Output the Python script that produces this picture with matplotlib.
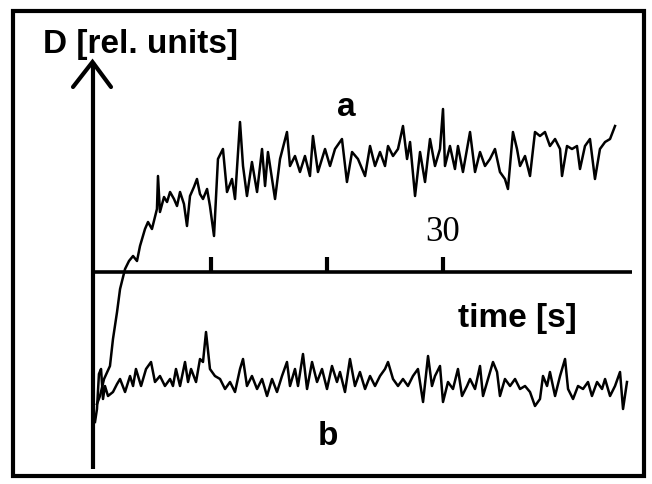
import matplotlib.pyplot as plt
from matplotlib.patches import Rectangle

# trace a: time [s], D [rel. units]
t_a = [0.17, 0.43, 0.78, 1.29, 1.55, 1.90, 2.16, 2.59, 2.93, 3.28, 3.62, 3.88,
       4.31, 4.57, 4.91, 5.34, 5.43, 5.60, 5.95, 6.21, 6.47, 6.81, 7.07, 7.33,
       7.67, 7.93, 8.19, 8.53, 8.79, 9.05, 9.31, 9.66, 9.91, 10.26, 10.60, 11.03,
       11.38, 11.81, 12.07, 12.50, 12.76, 13.10, 13.53, 13.97, 14.40, 14.66, 14.91,
       15.52, 15.95, 16.55, 16.81, 17.24, 17.67, 18.10, 18.53, 18.79, 19.22, 19.83,
       20.26, 20.69, 21.29, 21.72, 22.16, 22.67, 23.28, 23.71, 24.14, 24.57, 25.00,
       25.26, 25.69, 26.12, 26.55, 26.90, 27.16, 27.59, 28.02, 28.45, 28.88, 29.31,
       29.74, 30.00, 30.17, 30.60, 31.03, 31.29, 31.72, 32.33, 32.76, 33.19, 33.62,
       34.05, 34.48, 34.91, 35.34, 35.60, 36.03, 36.38, 36.64, 37.07, 37.50, 37.93,
       38.36, 38.79, 39.22, 39.66, 40.09, 40.26, 40.69, 41.12, 41.55, 41.81, 42.24,
       42.67, 43.10, 43.53, 43.97, 44.40, 44.83]
d_a = [-132, -124, -107, -94, -67, -40, -17, 3, 11, 16, 11, 26,
       43, 50, 43, 63, 96, 60, 75, 70, 80, 73, 66, 80,
       68, 46, 76, 85, 93, 78, 73, 83, 66, 36, 113, 123,
       80, 93, 73, 150, 106, 76, 110, 80, 123, 86, 120,
       73, 113, 140, 106, 116, 100, 116, 96, 136, 100, 123,
       106, 123, 133, 90, 120, 113, 96, 126, 106, 120, 106,
       126, 116, 123, 146, 113, 130, 76, 120, 90, 133, 106,
       123, 163, 106, 126, 103, 126, 100, 140, 100, 120, 106,
       113, 123, 100, 93, 83, 140, 123, 106, 116, 96, 140,
       136, 140, 126, 133, 123, 96, 126, 123, 126, 103, 126,
       133, 93, 123, 130, 133, 146]

# trace b
t_b = [0.00, 0.17, 0.34, 0.52, 0.69, 0.86, 1.12, 1.55, 1.90, 2.16, 2.59, 3.02,
       3.28, 3.53, 3.97, 4.40, 4.83, 5.17, 5.60, 6.03, 6.47, 6.72, 6.98, 7.33,
       7.76, 8.02, 8.28, 8.71, 9.05, 9.31, 9.57, 9.91, 10.34, 10.78, 11.21, 11.64,
       12.07, 12.50, 12.76, 13.10, 13.53, 13.97, 14.40, 14.83, 15.26, 15.69, 16.12,
       16.55, 16.81, 17.24, 17.50, 17.93, 18.28, 18.71, 19.14, 19.57, 20.00, 20.43,
       20.86, 21.12, 21.55, 21.98, 22.41, 22.84, 23.28, 23.71, 24.14, 24.57, 25.00,
       25.26, 25.69, 26.12, 26.55, 26.98, 27.41, 27.84, 28.28, 28.71, 29.05, 29.31,
       29.74, 30.00, 30.43, 30.86, 31.29, 31.64, 32.07, 32.33, 32.76, 33.19, 33.45,
       33.88, 34.31, 34.66, 34.91, 35.34, 35.78, 36.21, 36.64, 37.07, 37.50, 37.93,
       38.36, 38.62, 38.97, 39.22, 39.66, 40.09, 40.52, 40.78, 41.21, 41.64, 42.07,
       42.50, 42.84, 43.28, 43.71, 43.97, 44.40, 44.83, 45.26, 45.52, 45.86]
d_b = [-150, -137, -102, -97, -127, -114, -124, -120, -112, -107, -120, -104,
       -114, -97, -114, -97, -90, -110, -104, -114, -107, -114, -97, -114,
       -90, -110, -97, -110, -87, -90, -60, -97, -104, -107, -117, -110,
       -120, -97, -87, -114, -104, -117, -107, -124, -107, -120, -104,
       -90, -114, -97, -114, -82, -117, -90, -110, -97, -117, -94,
       -110, -100, -120, -87, -114, -100, -117, -104, -114, -104, -97,
       -90, -107, -114, -107, -114, -104, -97, -130, -84, -114, -104,
       -94, -130, -110, -117, -97, -124, -114, -107, -117, -94, -124,
       -107, -90, -100, -124, -107, -114, -107, -117, -114, -120, -134,
       -127, -104, -114, -100, -124, -104, -87, -117, -127, -114, -117,
       -110, -124, -110, -117, -107, -124, -114, -100, -137, -110]

x_ticks = [10, 20, 30]
tick_labels = {30: "30"}

# pixel -> data helpers for the hand-drawn axes
W, H = 652, 485
PX_PER_S = 11.6
T0_PX = 95
BASE_PX = 273


def tx(px):
    return (px - T0_PX) / PX_PER_S


def dy(py):
    return BASE_PX - py


fig = plt.figure(figsize=(W / 100, H / 100), dpi=100)
ax = fig.add_axes([0, 0, 1, 1])
ax.set_xlim(tx(0), tx(W))
ax.set_ylim(dy(H), dy(0))
ax.axis('off')

# outer frame
ax.add_patch(Rectangle((13.5 / W, 1 - 476.5 / H), (644 - 13.5) / W, (476.5 - 11.5) / H,
                       transform=ax.transAxes, fill=False, lw=3, color='black'))

# y axis with open arrow head
ax.plot([tx(92.5), tx(92.5)], [dy(470), dy(63)], color='black', lw=3, solid_capstyle='butt')
ax.plot([tx(73), tx(92.5), tx(111)], [dy(88), dy(63), dy(88)], color='black', lw=3,
        solid_capstyle='round', solid_joinstyle='miter')

# x axis and ticks
ax.plot([tx(92.5), tx(632)], [0, 0], color='black', lw=2.6, solid_capstyle='butt')
for xt in x_ticks:
    ax.plot([xt, xt], [0, dy(258)], color='black', lw=3, solid_capstyle='butt')
    if xt in tick_labels:
        ax.text(xt, dy(233), tick_labels[xt], ha='center', va='center',
                fontsize=25, family='Liberation Serif')

# traces
ax.plot(t_a, d_a, color='black', lw=1.8)
ax.plot(t_b, d_b, color='black', lw=1.8)

bold = dict(family='Liberation Sans', fontweight='bold', color='black')
ax.text(43 / W, 1 - 53 / H, "D [rel. units]", transform=ax.transAxes,
        ha='left', va='baseline', fontsize=24, **bold)
ax.text(tx(346), dy(108), "a", ha='center', va='center', fontsize=24, **bold)
ax.text(tx(517), dy(318), "time [s]", ha='center', va='center', fontsize=24, **bold)
ax.text(tx(328), dy(437), "b", ha='center', va='center', fontsize=24, **bold)

fig.savefig('out.png', dpi=100)
